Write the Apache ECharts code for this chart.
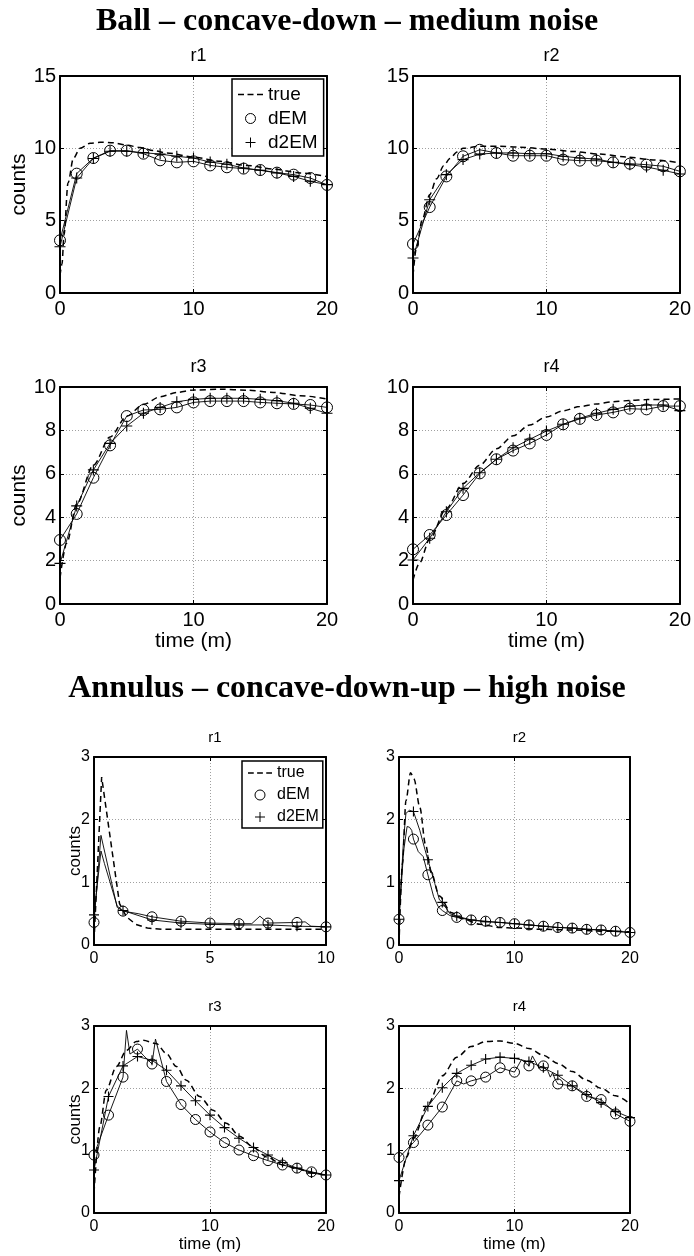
<!DOCTYPE html>
<html>
<head>
<meta charset="utf-8">
<script src="https://cdn.jsdelivr.net/npm/echarts@6/dist/echarts.min.js"></script>
<style>html,body{margin:0;padding:0;background:#fff}#c{width:694px;height:1256px}</style>
</head>
<body>
<div id="c"></div>
<script>
// ---------- DATA ----------
const MAIN_TITLES = ['Ball \u2013 concave-down \u2013 medium noise', 'Annulus \u2013 concave-down-up \u2013 high noise'];
const PANEL_NAMES = ['r1', 'r2', 'r3', 'r4'];
const LEGEND_NAMES = ['true', 'dEM', 'd2EM'];
const X_LABEL = 'time (m)';
const Y_LABEL = 'counts';

const TIME_20 = [0, 1.25, 2.5, 3.75, 5, 6.25, 7.5, 8.75, 10, 11.25, 12.5, 13.75, 15, 16.25, 17.5, 18.75, 20];
const TIME_10 = [0, 1.25, 2.5, 3.75, 5, 6.25, 7.5, 8.75, 10];

// Ball - concave-down - medium noise
const BALL_R1_TRUE = [[0,1.2],[0.15,2.0],[0.3,4.0],[0.6,7.6],[1.0,9.3],[1.5,10.0],[2.25,10.35],[3,10.42],[4,10.38],[5,10.22],[6,10.05],[7,9.85],[8,9.68],[10,9.4],[12,9.1],[14,8.82],[16,8.56],[18,8.3],[20,8.05]];
const BALL_R1_DEM  = [3.64,8.25,9.33,9.84,9.84,9.63,9.17,9.03,9.1,8.82,8.69,8.6,8.5,8.32,8.18,7.95,7.47];
const BALL_R1_D2EM = [3.2,7.95,9.3,9.8,9.8,9.7,9.6,9.45,9.33,9.05,8.9,8.64,8.48,8.3,8.06,7.72,7.49];

const BALL_R2_TRUE = [[0,1.2],[0.27,3.2],[0.7,5.1],[1.25,6.8],[1.77,7.9],[2.3,8.8],[2.77,9.3],[3.3,9.75],[3.77,10.0],[5,10.15],[6.5,10.15],[8,10.08],[10,9.95],[12,9.78],[14,9.6],[16,9.4],[18,9.2],[20,9.0]];
const BALL_R2_DEM  = [3.39,5.94,8.06,9.45,9.9,9.68,9.49,9.49,9.49,9.22,9.15,9.15,9.03,8.94,8.87,8.76,8.41];
const BALL_R2_D2EM = [2.42,6.45,8.18,9.22,9.6,9.68,9.68,9.63,9.63,9.45,9.33,9.26,9.03,8.87,8.71,8.48,8.23];

const BALL_R3_TRUE = [[0,1.2],[0.5,2.8],[1.25,4.6],[2.5,6.4],[3.75,7.7],[5,8.65],[6.25,9.2],[7.5,9.55],[8.75,9.75],[10,9.86],[12,9.9],[14,9.85],[16,9.75],[18,9.6],[20,9.45]];
const BALL_R3_DEM  = [2.95,4.15,5.82,7.31,8.66,8.94,8.97,9.06,9.29,9.35,9.35,9.35,9.29,9.25,9.22,9.17,9.06];
const BALL_R3_D2EM = [1.87,4.52,6.18,7.4,8.2,8.79,9.06,9.32,9.43,9.48,9.48,9.48,9.43,9.37,9.25,9.02,8.79];

const BALL_R4_TRUE = [[0,1.1],[0.5,1.9],[1.25,3.0],[2.5,4.4],[3.75,5.55],[5,6.4],[6.25,7.15],[7.5,7.75],[8.75,8.25],[10,8.62],[11.25,8.9],[12.5,9.1],[13.75,9.22],[15,9.32],[16.25,9.38],[17.5,9.42],[20,9.45]];
const BALL_R4_DEM  = [2.52,3.18,4.1,5.02,6.02,6.67,7.07,7.4,7.79,8.28,8.53,8.71,8.83,9.0,8.97,9.12,9.12];
const BALL_R4_D2EM = [2.03,3.03,4.25,5.33,6.05,6.67,7.2,7.59,7.97,8.28,8.56,8.79,8.97,9.12,9.17,9.17,8.91];

// Annulus - concave-down-up - high noise
const ANN_R1_TRUE = [[0,0.05],[0.33,2.68],[1.1,0.66],[1.4,0.45],[1.8,0.33],[2.3,0.27],[3,0.25],[10,0.25]];
const ANN_R1_DEM  = [0.36,0.54,0.45,0.38,0.35,0.34,0.35,0.36,0.29];
const ANN_R1_D2EM = [0.48,0.55,0.4,0.35,0.33,0.32,0.32,0.3,0.29];
const ANN_R1_DEM_EXTRA  = [[0.3,1.75],[1.0,0.6],[1.9,0.5],[6.8,0.34],[7.15,0.46],[9.1,0.37],[9.35,0.3]];
const ANN_R1_D2EM_EXTRA = [[0.3,1.5],[0.45,1.3],[1.0,0.62]];

const ANN_R2_TRUE = [[0,0],[0.3,1.3],[0.6,2.3],[1.0,2.75],[1.3,2.65],[1.8,2.2],[2.3,1.6],[2.8,1.15],[3.5,0.78],[4.5,0.52],[5.5,0.42],[7,0.33],[8.75,0.28],[10,0.27],[12.5,0.25],[15,0.24],[17.5,0.22],[20,0.21]];
const ANN_R2_DEM  = [0.41,1.69,1.12,0.55,0.44,0.4,0.38,0.36,0.34,0.32,0.3,0.28,0.27,0.25,0.24,0.22,0.2];
const ANN_R2_D2EM = [0.41,2.13,1.36,0.68,0.46,0.4,0.37,0.36,0.34,0.32,0.3,0.28,0.27,0.25,0.24,0.22,0.2];
const ANN_R2_DEM_EXTRA  = [[0.4,1.5],[0.7,1.89],[0.9,1.88],[1.1,1.83],[1.67,1.49],[2.1,1.41],[3.0,0.77],[3.4,0.61],[4.4,0.47]];
const ANN_R2_D2EM_EXTRA = [[0.4,1.7],[0.6,2.1],[0.9,2.15],[1.8,1.83],[2.25,1.52],[3.1,0.98],[3.5,0.72],[4.4,0.5]];

const ANN_R3_TRUE = [[0,0.32],[0.5,1.38],[1.06,1.97],[1.93,2.35],[2.8,2.61],[3.65,2.75],[4.22,2.77],[5.37,2.72],[6.23,2.56],[7.1,2.35],[7.96,2.13],[9.1,1.87],[10.26,1.65],[11.4,1.44],[12.56,1.23],[13.7,1.06],[14.86,0.9],[16.3,0.77],[17.5,0.71],[18.75,0.65],[20,0.6]];
const ANN_R3_DEM  = [0.93,1.57,2.18,2.63,2.39,2.11,1.74,1.5,1.3,1.13,1.01,0.92,0.84,0.77,0.72,0.66,0.61];
const ANN_R3_D2EM = [0.69,1.87,2.36,2.51,2.45,2.29,2.04,1.8,1.57,1.37,1.2,1.05,0.93,0.81,0.72,0.64,0.61];
const ANN_R3_DEM_EXTRA  = [[2.8,2.93],[3.1,2.55],[4.3,2.52],[5.3,2.79]];
const ANN_R3_D2EM_EXTRA = [];

const ANN_R4_TRUE = [[0,0.26],[0.66,0.9],[1.25,1.2],[2.5,1.74],[3.75,2.2],[5,2.5],[6.25,2.67],[7.5,2.75],[8.75,2.76],[10,2.72],[11.25,2.64],[12.5,2.53],[13.75,2.4],[15,2.27],[16.25,2.13],[17.5,2.0],[18.75,1.88],[20,1.75]];
const ANN_R4_DEM  = [0.89,1.13,1.41,1.7,2.12,2.12,2.18,2.33,2.26,2.36,2.36,2.07,2.04,1.87,1.82,1.59,1.47];
const ANN_R4_D2EM = [0.52,1.24,1.71,2.01,2.24,2.37,2.47,2.5,2.48,2.43,2.33,2.21,2.04,1.9,1.77,1.63,1.53];
const ANN_R4_DEM_EXTRA  = [[5.6,2.07],[10.6,2.46],[11.55,2.52],[12.1,2.33],[12.9,2.27],[13.1,2.18],[13.3,2.25],[13.5,2.15]];
const ANN_R4_D2EM_EXTRA = [];

// ---------- LAYOUT / STYLE ----------
const SANS = '"Liberation Sans", Arial, Helvetica, sans-serif';
const SERIF = '"Liberation Serif", "Times New Roman", serif';
const PLUS = 'path://M5,0L5,10M0,5L10,5';
const DASH_ICON = 'path://M0,0L6,0L6,1.5L0,1.5Z M9.5,0L15.5,0L15.5,1.5L9.5,1.5Z M19,0L25,0L25,1.5L19,1.5Z';

const STY = {
  top: {tick: 20, name: 21, title: 18, sym: 11, xGap: 26, yGap: 30, titleOff: 34, leg: 19},
  bot: {tick: 16, name: 17, title: 15, sym: 10, xGap: 23, yGap: 10, titleOff: 32, leg: 16}
};

const PANELS = [
  {sec:'top', name:PANEL_NAMES[0], box:[60,76,267,217],  x:TIME_20, tr:BALL_R1_TRUE, a:BALL_R1_DEM, b:BALL_R1_D2EM, ax:[], bx:[], xMax:20, xInt:10, yMax:15, yInt:5, yName:true,  xName:false, smooth:0.3},
  {sec:'top', name:PANEL_NAMES[1], box:[413,76,267,217], x:TIME_20, tr:BALL_R2_TRUE, a:BALL_R2_DEM, b:BALL_R2_D2EM, ax:[], bx:[], xMax:20, xInt:10, yMax:15, yInt:5, yName:false, xName:false, smooth:0.3},
  {sec:'top', name:PANEL_NAMES[2], box:[60,387,267,217], x:TIME_20, tr:BALL_R3_TRUE, a:BALL_R3_DEM, b:BALL_R3_D2EM, ax:[], bx:[], xMax:20, xInt:10, yMax:10, yInt:2, yName:true,  xName:true, smooth:0.3},
  {sec:'top', name:PANEL_NAMES[3], box:[413,387,267,217],x:TIME_20, tr:BALL_R4_TRUE, a:BALL_R4_DEM, b:BALL_R4_D2EM, ax:[], bx:[], xMax:20, xInt:10, yMax:10, yInt:2, yName:false, xName:true, smooth:0.3},
  {sec:'bot', name:PANEL_NAMES[0], box:[94,757,232,188], x:TIME_10, tr:ANN_R1_TRUE, a:ANN_R1_DEM, b:ANN_R1_D2EM, ax:ANN_R1_DEM_EXTRA, bx:ANN_R1_D2EM_EXTRA, xMax:10, xInt:5, yMax:3, yInt:1, yName:true,  xName:false, smooth:false},
  {sec:'bot', name:PANEL_NAMES[1], box:[399,757,231,188],x:TIME_20, tr:ANN_R2_TRUE, a:ANN_R2_DEM, b:ANN_R2_D2EM, ax:ANN_R2_DEM_EXTRA, bx:ANN_R2_D2EM_EXTRA, xMax:20, xInt:10, yMax:3, yInt:1, yName:false, xName:false, smooth:0.3},
  {sec:'bot', name:PANEL_NAMES[2], box:[94,1026,232,187],x:TIME_20, tr:ANN_R3_TRUE, a:ANN_R3_DEM, b:ANN_R3_D2EM, ax:ANN_R3_DEM_EXTRA, bx:ANN_R3_D2EM_EXTRA, xMax:20, xInt:10, yMax:3, yInt:1, yName:true,  xName:true, smooth:0.3},
  {sec:'bot', name:PANEL_NAMES[3], box:[399,1026,231,187],x:TIME_20, tr:ANN_R4_TRUE, a:ANN_R4_DEM, b:ANN_R4_D2EM, ax:ANN_R4_DEM_EXTRA, bx:ANN_R4_D2EM_EXTRA, xMax:20, xInt:10, yMax:3, yInt:1, yName:false, xName:true, smooth:0.3}
];

function pairs(times, vals) { return times.map((t, i) => [t, vals[i]]); }
function merged(times, vals, extra) {
  return pairs(times, vals).concat(extra || []).sort((p, q) => p[0] - q[0]);
}

const grid = [], xAxis = [], yAxis = [], series = [];
const title = [
  {text: MAIN_TITLES[0], left: 'center', top: 1, textStyle: {fontFamily: SERIF, fontWeight: 'bold', fontSize: 32, color: '#000'}},
  {text: MAIN_TITLES[1], left: 'center', top: 668, textStyle: {fontFamily: SERIF, fontWeight: 'bold', fontSize: 32, color: '#000'}}
];

const frame = {show: true, onZero: false, lineStyle: {color: '#000', width: 2}};
const tick = {show: true, inside: true, length: 4, lineStyle: {color: '#000', width: 1}};
const split = {show: true, lineStyle: {color: '#a0a0a0', type: [1, 2], width: 1}};

PANELS.forEach((p, i) => {
  const s = STY[p.sec];
  const [L, T, W, H] = p.box;
  grid.push({left: L, top: T, width: W, height: H, containLabel: false});
  title.push({text: p.name, left: L + W / 2, textAlign: 'center', top: T - s.titleOff,
    textStyle: {fontFamily: SANS, fontWeight: 'normal', fontSize: s.title, color: '#000'}});
  xAxis.push({gridIndex: i, type: 'value', min: 0, max: p.xMax, interval: p.xInt, position: 'bottom',
    axisLine: frame, axisTick: tick, splitLine: split,
    axisLabel: {color: '#000', fontSize: s.tick, fontFamily: SANS, margin: 6},
    name: p.xName ? X_LABEL : '', nameLocation: 'middle', nameGap: s.xGap,
    nameTextStyle: {color: '#000', fontSize: s.name, fontFamily: SANS}});
  xAxis.push({gridIndex: i, type: 'value', min: 0, max: p.xMax, interval: p.xInt, position: 'top',
    axisLine: frame, axisTick: tick, splitLine: {show: false}, axisLabel: {show: false}});
  yAxis.push({gridIndex: i, type: 'value', min: 0, max: p.yMax, interval: p.yInt, position: 'left',
    axisLine: frame, axisTick: tick, splitLine: split,
    axisLabel: {color: '#000', fontSize: s.tick, fontFamily: SANS, margin: 4},
    name: p.yName ? Y_LABEL : '', nameLocation: 'middle', nameGap: s.yGap, nameMoveOverlap: false,
    nameTextStyle: {color: '#000', fontSize: s.name, fontFamily: SANS}});
  yAxis.push({gridIndex: i, type: 'value', min: 0, max: p.yMax, interval: p.yInt, position: 'right',
    axisLine: frame, axisTick: tick, splitLine: {show: false}, axisLabel: {show: false}});
  const xi = 2 * i, yi = 2 * i;
  series.push({type: 'line', name: LEGEND_NAMES[0], xAxisIndex: xi, yAxisIndex: yi, data: p.tr,
    symbol: 'none', smooth: p.smooth, smoothMonotone: 'x', silent: true,
    lineStyle: {color: '#000', width: 1.5, type: [6, 4]}, itemStyle: {color: '#000'}, z: 3});
  series.push({type: 'line', name: 'dEM line', xAxisIndex: xi, yAxisIndex: yi, data: merged(p.x, p.a, p.ax),
    symbol: 'none', silent: true, lineStyle: {color: '#000', width: 0.9}, z: 3});
  series.push({type: 'line', name: 'd2EM line', xAxisIndex: xi, yAxisIndex: yi, data: merged(p.x, p.b, p.bx),
    symbol: 'none', silent: true, lineStyle: {color: '#000', width: 0.9}, z: 3});
  series.push({type: 'scatter', name: LEGEND_NAMES[1], xAxisIndex: xi, yAxisIndex: yi, data: pairs(p.x, p.a),
    symbol: 'circle', symbolSize: s.sym, silent: true,
    itemStyle: {color: 'none', borderColor: '#000', borderWidth: 1, opacity: 1}, z: 4});
  series.push({type: 'scatter', name: LEGEND_NAMES[2], xAxisIndex: xi, yAxisIndex: yi, data: pairs(p.x, p.b),
    symbol: PLUS, symbolSize: s.sym, silent: true,
    itemStyle: {color: 'none', borderColor: '#000', borderWidth: 1.1, opacity: 1}, z: 4});
});

function legendAt(left, top, s, pad, gap, iw) {
  return {
    data: [
      {name: LEGEND_NAMES[0], icon: DASH_ICON, itemStyle: {color: '#000', borderWidth: 0}},
      LEGEND_NAMES[1], LEGEND_NAMES[2]
    ],
    orient: 'vertical', left: left, top: top, padding: pad, itemGap: gap,
    itemWidth: iw, itemHeight: 10, symbolKeepAspect: true, selectedMode: false, backgroundColor: '#fff',
    borderColor: '#000', borderWidth: 1.5, borderRadius: 0, z: 10,
    itemStyle: {borderWidth: 1}, lineStyle: {width: 1.5},
    textStyle: {fontFamily: SANS, fontSize: s.leg, color: '#000'}
  };
}

const option = {
  animation: false,
  backgroundColor: '#fff',
  textStyle: {fontFamily: SANS},
  title: title,
  legend: [legendAt(232, 79, STY.top, [6, 6, 4, 6], 5, 25), legendAt(242, 761, STY.bot, [4, 4, 3, 6], 6, 24)],
  grid: grid, xAxis: xAxis, yAxis: yAxis, series: series
};

const chart = echarts.init(document.getElementById('c'), null, {renderer: 'canvas'});
chart.setOption(option);
</script>
</body>
</html>
